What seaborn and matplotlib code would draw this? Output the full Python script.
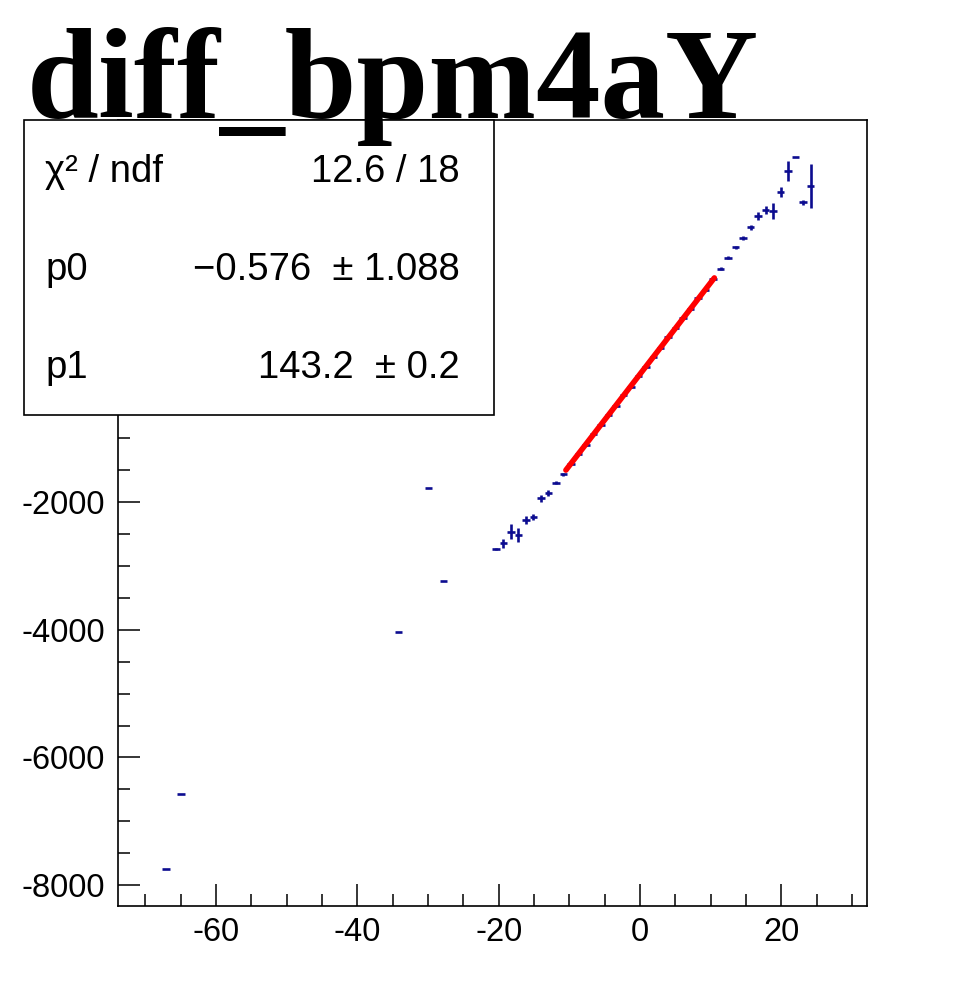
import matplotlib
matplotlib.use("Agg")
import matplotlib.pyplot as plt
import seaborn as sns
import numpy as np
import pandas as pd
from matplotlib.patches import Rectangle

# ---------------- data ----------------
bin_centers = [-67.04, -64.92, -34.18, -29.94, -27.82,
               -20.40, -19.34, -18.28, -17.22, -16.16, -15.10, -14.04, -12.98, -11.92, -10.86,
               -9.80, -8.74, -7.68, -6.62, -5.56, -4.50, -3.44, -2.38, -1.32, -0.26,
               0.80, 1.86, 2.92, 3.98, 5.04, 6.10, 7.16, 8.22, 9.28, 10.34,
               11.40, 12.46, 13.52, 14.58, 15.64, 16.70, 17.76, 18.82, 19.88, 20.94,
               22.00, 23.06, 24.12]
profile_means = [-7745, -6576, -4038, -1781, -3240,
                 -2740, -2651, -2469, -2521, -2286, -2235, -1947, -1859, -1703, -1567,
                 -1410, -1246, -1106, -942, -803, -638, -499, -334, -196, -31,
                 108, 272, 412, 577, 715, 880, 1019, 1184, 1321, 1487,
                 1650, 1822, 1979, 2129, 2292, 2468, 2562, 2551, 2848, 3177,
                 3396, 2683, 2937]
profile_errors = [0, 0, 0, 0, 0,
                  20, 70, 115, 110, 60, 50, 55, 45, 25, 25,
                  18, 18, 18, 18, 18, 18, 18, 18, 18, 18,
                  18, 18, 18, 18, 18, 18, 18, 18, 18, 20,
                  25, 30, 25, 30, 35, 65, 60, 125, 80, 160,
                  0, 35, 345]
bin_half_width = 0.53

fit_p0 = -0.576
fit_p1 = 143.2
fit_range = [-10.5, 10.5]

title_text = "diff_bpm4aY"
stats_labels = ["\u03c7\u00b2 / ndf", "p0", "p1"]
stats_values = ["12.6 / 18", "\u22120.576  \u00b1 1.088", "143.2  \u00b1 0.2"]

x_major_ticks = [-60, -40, -20, 0, 20]
y_major_ticks = [-8000, -6000, -4000, -2000, 0, 2000]
# labels of 0 and 2000 sit behind the stats box in the reference
y_major_labels = ["-8000", "-6000", "-4000", "-2000", "", ""]

x_limits = (-73.93, 32.1)
y_limits = (-8324, 3973)

# ---------------- style ----------------
sns.set_theme(style="white")
plt.rcParams["font.family"] = ["Liberation Sans", "DejaVu Sans"]
plt.rcParams["axes.unicode_minus"] = False
plt.rcParams["text.color"] = "black"
plt.rcParams["xtick.color"] = "black"
plt.rcParams["ytick.color"] = "black"

fig = plt.figure(figsize=(9.61, 9.83), dpi=100)
ax = fig.add_axes([0.1223, 0.0783, 0.7799, 0.7996])

df = pd.DataFrame({"x": bin_centers, "y": profile_means, "yerr": profile_errors})

ax.errorbar(df["x"], df["y"], xerr=bin_half_width, yerr=df["yerr"], fmt="none",
            ecolor="#0c0c90", elinewidth=1.9, capsize=0, zorder=3)

fx = np.linspace(fit_range[0], fit_range[1], 50)
fit_df = pd.DataFrame({"x": fx, "y": fit_p0 + fit_p1 * fx})
sns.lineplot(data=fit_df, x="x", y="y", color="#ff0000", linewidth=4.0, ax=ax,
             zorder=4, solid_capstyle="round")

ax.set_xlim(*x_limits)
ax.set_ylim(*y_limits)
ax.set_xlabel("")
ax.set_ylabel("")

ax.set_xticks(x_major_ticks)
ax.set_xticklabels([str(v) for v in x_major_ticks])
ax.set_xticks(np.arange(-70, 31, 5), minor=True)
ax.set_yticks(y_major_ticks)
ax.set_yticklabels(y_major_labels)
ax.set_yticks(np.arange(-8000, 3973, 500), minor=True)
ax.tick_params(axis="both", which="major", direction="in", length=16, width=1.1,
               color="black", labelsize=23.5, labelcolor="black", bottom=True, left=True,
               top=False, right=False)
ax.tick_params(axis="both", which="minor", direction="in", length=8.5, width=1.1,
               color="black", bottom=True, left=True, top=False, right=False)
ax.tick_params(axis="x", which="major", pad=8)
ax.tick_params(axis="y", which="major", pad=9)
for s in ax.spines.values():
    s.set_color("black")
    s.set_linewidth(1.2)
ax.grid(False)

# stats box
box = Rectangle((0.025, 0.578), 0.489, 0.300, transform=fig.transFigure,
                facecolor="white", edgecolor="black", linewidth=1.2, zorder=10)
fig.patches.append(box)
rows_y = [0.825, 0.725, 0.626]
for lab, val, yy in zip(stats_labels, stats_values, rows_y):
    fig.text(0.047, yy, lab, fontsize=27.5, va="center", ha="left", color="black", zorder=11)
    fig.text(0.478, yy, val, fontsize=27.5, va="center", ha="right", color="black", zorder=11)

# title (drawn above the stats box, as in the reference)
fig.text(0.028, 0.880, title_text, fontsize=93, fontweight="bold", color="black",
         family=["Liberation Serif", "DejaVu Serif"], va="baseline", ha="left", zorder=12)

fig.savefig("out.png", dpi=100)
